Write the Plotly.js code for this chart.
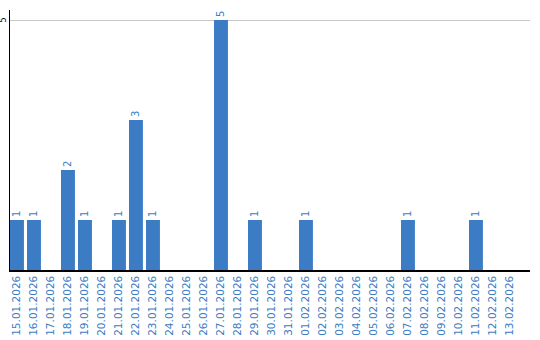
<!DOCTYPE html>
<html>
<head>
<meta charset="utf-8">
<script src="https://cdn.plot.ly/plotly-3.0.1.min.js"></script>
<style>html,body{margin:0;padding:0;background:#fff;}#chart{width:540px;height:340px;}</style>
</head>
<body>
<div id="chart"></div>
<script>
var dates = ["15.01.2026","16.01.2026","17.01.2026","18.01.2026","19.01.2026","20.01.2026","21.01.2026","22.01.2026","23.01.2026","24.01.2026","25.01.2026","26.01.2026","27.01.2026","28.01.2026","29.01.2026","30.01.2026","31.01.2026","01.02.2026","02.02.2026","03.02.2026","04.02.2026","05.02.2026","06.02.2026","07.02.2026","08.02.2026","09.02.2026","10.02.2026","11.02.2026","12.02.2026","13.02.2026"];
var counts = [1,1,0,2,1,0,1,3,1,0,0,0,5,0,1,0,0,1,0,0,0,0,0,1,0,0,0,1,0,0];
var yTicks = [5];

var labels = counts.map(function(v){ return v > 0 ? String(v) : ""; });
var blue = "#3b7cc4";

var trace = {
  type: "bar",
  x: dates,
  y: counts,
  text: labels,
  textposition: "outside",
  textangle: -90,
  cliponaxis: false,
  constraintext: "none",
  textfont: {family: "DejaVu Sans", size: 10, color: blue},
  marker: {color: blue},
  hoverinfo: "none"
};

var annotations = yTicks.map(function(t){
  return {
    xref: "paper", yref: "y", x: 0, y: t,
    text: String(t), showarrow: false, textangle: -90,
    xanchor: "right", yanchor: "middle", xshift: -1,
    font: {family: "DejaVu Sans", size: 8, color: "#000"}
  };
});

var layout = {
  width: 540, height: 340,
  margin: {l: 10, r: 10, t: 10, b: 70, pad: 0},
  paper_bgcolor: "#fff", plot_bgcolor: "#fff",
  showlegend: false,
  bargap: 0.18,
  annotations: annotations,
  xaxis: {
    type: "category",
    range: [-0.41, 30.18],
    tickangle: -90,
    tickfont: {family: "DejaVu Sans", size: 10.5, color: blue},
    showline: true, linecolor: "#000", linewidth: 1.5,
    showgrid: false, ticks: "", zeroline: false
  },
  yaxis: {
    range: [0, 5.2],
    tickvals: yTicks,
    showticklabels: false,
    showline: true, linecolor: "#000", linewidth: 1.5,
    showgrid: true, gridcolor: "#c8c8c8", gridwidth: 1,
    ticks: "", zeroline: false
  }
};

Plotly.newPlot("chart", [trace], layout, {staticPlot: true, displayModeBar: false});
</script>
</body>
</html>
